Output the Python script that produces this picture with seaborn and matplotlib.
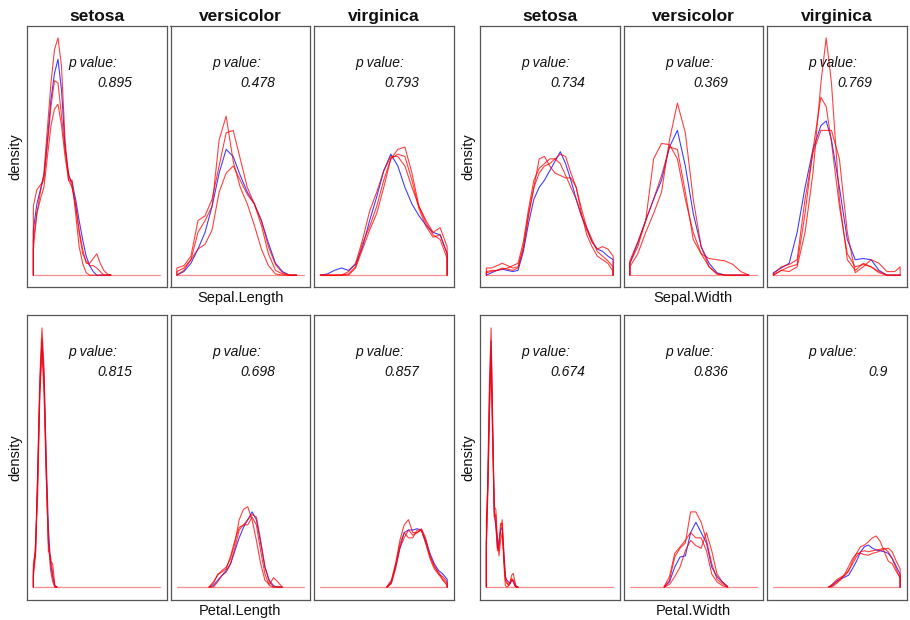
import numpy as np
import pandas as pd
import seaborn as sns
import matplotlib
matplotlib.use("Agg")
import matplotlib.pyplot as plt

species = ["setosa", "versicolor", "virginica"]
variables = ["Sepal.Length", "Sepal.Width", "Petal.Length", "Petal.Width"]
var_range = {"Sepal.Length": (4.3, 7.9), "Sepal.Width": (2.0, 4.4),
             "Petal.Length": (1.0, 6.9), "Petal.Width": (0.1, 2.5)}
curve_names = ["observed", "sim1", "sim2", "sim3"]

p_values = {
    "Sepal.Length": ["0.895", "0.478", "0.793"],
    "Sepal.Width": ["0.734", "0.369", "0.769"],
    "Petal.Length": ["0.815", "0.698", "0.857"],
    "Petal.Width": ["0.674", "0.836", "0.9"],
}

# density curves (observed + 3 simulated)
sl_setosa_x = [4.3, 4.4, 4.5, 4.6, 4.7, 4.8, 4.9, 5.0, 5.1, 5.2, 5.3, 5.4, 5.5, 5.6,
               5.7, 5.8, 5.9, 6.0, 6.1, 6.2, 6.3, 6.4, 6.5]
sl_setosa = [
    [0.19, 0.30, 0.36, 0.42, 0.57, 0.74, 0.85, 0.91, 0.78, 0.54, 0.42, 0.39, 0.32, 0.23, 0.15, 0.08, 0.04, 0.015, 0, 0, 0, 0, 0],
    [0.11, 0.26, 0.35, 0.43, 0.62, 0.81, 0.95, 1.0, 0.88, 0.57, 0.40, 0.40, 0.26, 0.12, 0.05, 0.01, 0, 0, 0, 0, 0, 0, 0],
    [0.29, 0.36, 0.38, 0.40, 0.55, 0.71, 0.82, 0.81, 0.67, 0.53, 0.43, 0.37, 0.29, 0.19, 0.11, 0.05, 0.05, 0.07, 0.09, 0.05, 0.02, 0.005, 0],
    [0.15, 0.26, 0.32, 0.37, 0.50, 0.63, 0.70, 0.72, 0.63, 0.50, 0.40, 0.37, 0.30, 0.18, 0.09, 0.06, 0.04, 0.04, 0.03, 0.015, 0, 0, 0],
]
sl_versicolor_x = [4.3, 4.5, 4.7, 4.9, 5.1, 5.3, 5.5, 5.7, 5.9, 6.1, 6.3, 6.5, 6.7, 6.9, 7.1, 7.3, 7.5, 7.7]
sl_versicolor = [
    [0, 0.015, 0.05, 0.11, 0.18, 0.29, 0.43, 0.53, 0.50, 0.42, 0.35, 0.30, 0.23, 0.135, 0.05, 0.015, 0, 0],
    [0.015, 0.03, 0.065, 0.18, 0.23, 0.29, 0.57, 0.67, 0.48, 0.37, 0.30, 0.21, 0.11, 0.04, 0.005, 0, 0, 0],
    [0.03, 0.04, 0.08, 0.23, 0.25, 0.32, 0.46, 0.60, 0.61, 0.49, 0.37, 0.30, 0.21, 0.09, 0.02, 0.005, 0, 0],
    [0, 0.02, 0.065, 0.11, 0.13, 0.19, 0.35, 0.43, 0.46, 0.40, 0.34, 0.30, 0.23, 0.12, 0.045, 0.01, 0, 0],
]
sl_virginica_x = [4.3, 4.5, 4.7, 4.9, 5.1, 5.3, 5.5, 5.7, 5.9, 6.1, 6.3, 6.5, 6.7, 6.9, 7.1, 7.3, 7.5, 7.7, 7.9]
sl_virginica = [
    [0, 0.005, 0.02, 0.03, 0.02, 0.045, 0.12, 0.23, 0.33, 0.44, 0.51, 0.46, 0.37, 0.30, 0.25, 0.21, 0.18, 0.17, 0.09],
    [0, 0, 0, 0, 0.005, 0.035, 0.135, 0.205, 0.29, 0.40, 0.49, 0.53, 0.54, 0.43, 0.29, 0.23, 0.18, 0.20, 0.12],
    [0, 0, 0, 0, 0.015, 0.05, 0.15, 0.27, 0.35, 0.44, 0.50, 0.50, 0.46, 0.37, 0.29, 0.22, 0.17, 0.15, 0.07],
    [0, 0, 0, 0, 0, 0.03, 0.11, 0.19, 0.26, 0.37, 0.49, 0.51, 0.50, 0.40, 0.28, 0.205, 0.16, 0.17, 0.09],
]

sw_setosa_x = [2.0, 2.1, 2.2, 2.3, 2.4, 2.5, 2.6, 2.7, 2.8, 2.9, 3.0, 3.1, 3.2, 3.3, 3.4, 3.5,
               3.6, 3.7, 3.8, 3.9, 4.0, 4.1, 4.2, 4.3, 4.4]
sw_setosa = [
    [0, 0.01, 0.02, 0.025, 0.02, 0.015, 0.02, 0.10, 0.22, 0.32, 0.37, 0.40, 0.44, 0.48, 0.52, 0.47, 0.40, 0.32, 0.25, 0.20, 0.14, 0.11, 0.10, 0.08, 0.065],
    [0.03, 0.03, 0.04, 0.05, 0.04, 0.03, 0.035, 0.12, 0.26, 0.37, 0.49, 0.50, 0.46, 0.43, 0.42, 0.41, 0.41, 0.37, 0.28, 0.20, 0.15, 0.10, 0.08, 0.06, 0.035],
    [0.015, 0.02, 0.02, 0.025, 0.03, 0.04, 0.05, 0.14, 0.28, 0.40, 0.45, 0.47, 0.49, 0.49, 0.47, 0.42, 0.37, 0.32, 0.25, 0.19, 0.14, 0.11, 0.12, 0.11, 0.08],
    [0.01, 0.015, 0.02, 0.03, 0.025, 0.02, 0.03, 0.11, 0.25, 0.37, 0.43, 0.46, 0.47, 0.49, 0.51, 0.50, 0.43, 0.37, 0.26, 0.17, 0.12, 0.08, 0.065, 0.05, 0.015],
]
sw_versicolor_x = [2.0, 2.15, 2.3, 2.45, 2.6, 2.75, 2.9, 3.05, 3.2, 3.35, 3.5, 3.65, 3.8, 3.95, 4.1, 4.25]
sw_versicolor = [
    [0.05, 0.135, 0.23, 0.32, 0.40, 0.54, 0.61, 0.46, 0.26, 0.12, 0.05, 0.01, 0, 0, 0, 0],
    [0.035, 0.09, 0.18, 0.26, 0.35, 0.57, 0.725, 0.60, 0.32, 0.12, 0.035, 0.005, 0, 0, 0, 0],
    [0.05, 0.12, 0.23, 0.49, 0.555, 0.55, 0.49, 0.32, 0.18, 0.09, 0.035, 0.005, 0, 0, 0, 0],
    [0.06, 0.14, 0.23, 0.32, 0.42, 0.54, 0.53, 0.35, 0.15, 0.09, 0.07, 0.065, 0.06, 0.045, 0.015, 0],
]
sw_virginica_x = [2.0, 2.15, 2.3, 2.45, 2.6, 2.75, 2.9, 3.0, 3.1, 3.25, 3.4, 3.55, 3.7, 3.85, 4.0, 4.15, 4.3, 4.4]
sw_virginica = [
    [0.01, 0.03, 0.05, 0.18, 0.37, 0.53, 0.63, 0.65, 0.57, 0.37, 0.15, 0.065, 0.07, 0.065, 0.02, 0, 0, 0],
    [0, 0.02, 0.015, 0.035, 0.18, 0.43, 0.81, 1.0, 0.81, 0.32, 0.065, 0.02, 0.05, 0.035, 0.015, 0, 0, 0],
    [0, 0.02, 0.035, 0.045, 0.26, 0.53, 0.75, 0.71, 0.56, 0.29, 0.09, 0.035, 0.045, 0.035, 0.01, 0, 0, 0],
    [0.005, 0.035, 0.045, 0.065, 0.32, 0.515, 0.61, 0.61, 0.61, 0.49, 0.18, 0.01, 0.035, 0.065, 0.05, 0.015, 0.015, 0.035],
]

pl_setosa_x = [1.0, 1.1, 1.2, 1.3, 1.4, 1.5, 1.6, 1.7, 1.8, 1.9, 2.0, 2.1]
pl_setosa = [
    [0.065, 0.13, 0.42, 0.75, 0.95, 0.81, 0.49, 0.23, 0.09, 0.04, 0.005, 0],
    [0.09, 0.14, 0.45, 0.81, 1.0, 0.84, 0.45, 0.17, 0.10, 0.09, 0.006, 0],
    [0.04, 0.12, 0.40, 0.77, 0.96, 0.77, 0.46, 0.14, 0.12, 0.05, 0, 0],
    [0.05, 0.17, 0.35, 0.74, 0.91, 0.74, 0.42, 0.18, 0.065, 0.02, 0, 0],
]
pl_versicolor_x = [2.5, 2.7, 2.9, 3.1, 3.3, 3.5, 3.7, 3.9, 4.1, 4.3, 4.5, 4.7, 4.9, 5.1, 5.3, 5.5, 5.7, 5.9]
pl_versicolor = [
    [0, 0.006, 0.026, 0.045, 0.064, 0.09, 0.14, 0.19, 0.23, 0.26, 0.29, 0.26, 0.17, 0.077, 0.026, 0.005, 0, 0],
    [0, 0.02, 0.045, 0.064, 0.077, 0.11, 0.17, 0.26, 0.30, 0.31, 0.26, 0.18, 0.09, 0.026, 0.01, 0.036, 0.02, 0],
    [0, 0.013, 0.05, 0.058, 0.07, 0.12, 0.18, 0.23, 0.24, 0.24, 0.27, 0.24, 0.14, 0.05, 0.006, 0, 0, 0],
    [0, 0, 0.02, 0.045, 0.058, 0.09, 0.15, 0.22, 0.24, 0.26, 0.28, 0.27, 0.18, 0.077, 0.02, 0, 0, 0],
]
pl_virginica_x = [4.1, 4.3, 4.5, 4.7, 4.9, 5.1, 5.3, 5.5, 5.7, 5.9, 6.1, 6.3, 6.5, 6.7, 6.9]
pl_virginica = [
    [0, 0.02, 0.077, 0.15, 0.21, 0.22, 0.22, 0.225, 0.22, 0.18, 0.13, 0.09, 0.064, 0.05, 0.03],
    [0.003, 0.026, 0.09, 0.18, 0.24, 0.26, 0.21, 0.21, 0.22, 0.17, 0.11, 0.07, 0.05, 0.04, 0.02],
    [0, 0.013, 0.07, 0.15, 0.19, 0.22, 0.20, 0.21, 0.225, 0.19, 0.12, 0.077, 0.058, 0.03, 0.013],
    [0, 0.015, 0.085, 0.165, 0.21, 0.19, 0.19, 0.22, 0.22, 0.17, 0.12, 0.085, 0.05, 0.026, 0.006],
]

pw_setosa_x = [0.1, 0.13, 0.16, 0.19, 0.22, 0.25, 0.28, 0.31, 0.34, 0.37, 0.4, 0.43, 0.46,
               0.49, 0.52, 0.55, 0.58, 0.61, 0.64, 0.67, 0.7]
pw_setosa = [
    [0.17, 0.42, 0.75, 0.95, 0.62, 0.30, 0.23, 0.15, 0.18, 0.22, 0.23, 0.13, 0.04, 0.026, 0.02, 0.013, 0.026, 0.02, 0.005, 0, 0],
    [0.14, 0.45, 0.81, 1.0, 0.64, 0.27, 0.28, 0.14, 0.17, 0.245, 0.245, 0.09, 0.006, 0, 0.005, 0.02, 0.046, 0.053, 0.02, 0, 0],
    [0.26, 0.40, 0.68, 0.91, 0.58, 0.31, 0.30, 0.17, 0.14, 0.22, 0.26, 0.14, 0.04, 0.02, 0.005, 0.013, 0.027, 0.027, 0.013, 0, 0],
    [0.17, 0.37, 0.70, 0.87, 0.55, 0.28, 0.24, 0.19, 0.12, 0.18, 0.21, 0.12, 0.026, 0.013, 0.01, 0.02, 0.033, 0.023, 0.005, 0, 0],
]
pw_versicolor_x = [0.75, 0.85, 0.95, 1.05, 1.15, 1.25, 1.35, 1.45, 1.55, 1.65, 1.75, 1.85, 1.95]
pw_versicolor = [
    [0, 0.02, 0.077, 0.116, 0.12, 0.21, 0.25, 0.21, 0.17, 0.077, 0.04, 0.02, 0.003],
    [0, 0.026, 0.116, 0.15, 0.17, 0.29, 0.29, 0.25, 0.18, 0.09, 0.03, 0.013, 0],
    [0.003, 0.04, 0.13, 0.155, 0.18, 0.21, 0.19, 0.19, 0.14, 0.05, 0.02, 0.005, 0],
    [0, 0.01, 0.04, 0.077, 0.14, 0.18, 0.16, 0.15, 0.21, 0.14, 0.05, 0.02, 0],
]
pw_virginica_x = [1.15, 1.225, 1.3, 1.375, 1.45, 1.525, 1.6, 1.675, 1.75, 1.825, 1.9, 1.975,
                  2.05, 2.125, 2.2, 2.275, 2.35, 2.425, 2.5]
pw_virginica = [
    [0, 0.01, 0.023, 0.032, 0.038, 0.046, 0.072, 0.10, 0.136, 0.156, 0.162, 0.15, 0.143, 0.14, 0.136, 0.13, 0.11, 0.08, 0.05],
    [0, 0.013, 0.028, 0.038, 0.045, 0.06, 0.10, 0.13, 0.156, 0.162, 0.175, 0.19, 0.197, 0.175, 0.136, 0.10, 0.09, 0.06, 0.038],
    [0, 0.006, 0.02, 0.032, 0.05, 0.08, 0.11, 0.13, 0.13, 0.125, 0.123, 0.13, 0.134, 0.14, 0.146, 0.15, 0.136, 0.10, 0.07],
    [0, 0.003, 0.015, 0.028, 0.045, 0.066, 0.09, 0.118, 0.136, 0.14, 0.136, 0.14, 0.143, 0.146, 0.15, 0.136, 0.11, 0.07, 0.032],
]

curves = {
    "Sepal.Length": [(sl_setosa_x, sl_setosa), (sl_versicolor_x, sl_versicolor), (sl_virginica_x, sl_virginica)],
    "Sepal.Width": [(sw_setosa_x, sw_setosa), (sw_versicolor_x, sw_versicolor), (sw_virginica_x, sw_virginica)],
    "Petal.Length": [(pl_setosa_x, pl_setosa), (pl_versicolor_x, pl_versicolor), (pl_virginica_x, pl_virginica)],
    "Petal.Width": [(pw_setosa_x, pw_setosa), (pw_versicolor_x, pw_versicolor), (pw_virginica_x, pw_virginica)],
}

sns.set_style("white")
plt.rcParams["font.family"] = ["Liberation Sans", "DejaVu Sans"]

W, H = 910, 620
fig = plt.figure(figsize=(W / 100, H / 100), dpi=100)

palette = {"observed": "#0000FF", "sim1": "#FF0000", "sim2": "#FF0000", "sim3": "#FF0000"}
group_left = {"Sepal.Length": 27, "Sepal.Width": 480, "Petal.Length": 27, "Petal.Width": 480}
group_row = {"Sepal.Length": (26, 287), "Sepal.Width": (26, 287),
             "Petal.Length": (315, 600), "Petal.Width": (315, 600)}
panel_step, panel_w = 143.5, 139.5

for var in variables:
    lo, hi = var_range[var]
    top, bottom = group_row[var]
    ymax = max(max(max(c) for c in ys) for _, ys in curves[var])
    for j, sp in enumerate(species):
        left = group_left[var] + j * panel_step
        ax = fig.add_axes([left / W, 1 - bottom / H, panel_w / W, (bottom - top) / H])
        xs, ys = curves[var][j]
        rows = []
        for name, y in zip(curve_names, ys):
            pts = [(xs[0], 0.0)] + list(zip(xs, y)) + [(xs[-1], 0.0)]
            for k, (xv, yv) in enumerate(pts):
                rows.append({"curve": name, "order": k, "x": xv, "density": yv})
        d = pd.DataFrame(rows)
        # observed curve first, simulated ones and the zero line on top
        sns.lineplot(data=d, x="x", y="density", hue="curve", hue_order=curve_names,
                     palette=palette, estimator=None, sort=False, legend=False,
                     linewidth=0.8, alpha=0.75, ax=ax)
        sns.lineplot(x=[lo, hi], y=[0, 0], color="#FF0000", alpha=0.45, linewidth=0.9, ax=ax)
        pad_x = 0.05 * (hi - lo)
        ax.set_xlim(lo - pad_x, hi + pad_x)
        ax.set_ylim(-0.05 * ymax, 1.05 * ymax)
        ax.set_xticks([])
        ax.set_yticks([])
        ax.set_xlabel("")
        ax.set_ylabel("")
        for s in ax.spines.values():
            s.set_visible(True)
            s.set_color("#555555")
            s.set_linewidth(0.9)
        if top < 100:
            ax.set_title(sp, fontsize=12.5, fontweight="bold", pad=3.5, color="#111111")
        pv = p_values[var][j]
        ax.annotate("p value:", xy=(0.475, 1), xycoords="axes fraction",
                    xytext=(0, -37), textcoords="offset pixels",
                    ha="center", va="center", style="italic", fontsize=10, color="#111111")
        ax.annotate(pv, xy=(0.627 + (5 - len(pv)) * 0.083, 1), xycoords="axes fraction",
                    xytext=(0, -57), textcoords="offset pixels",
                    ha="center", va="center", style="italic", fontsize=10, color="#111111")
    mid = group_left[var] + panel_step + panel_w / 2
    fig.text(mid / W, 1 - (bottom + 11) / H, var, ha="center", va="center",
             fontsize=10.5, color="#111111")
    fig.text((group_left[var] - 12) / W, 1 - (top + bottom) / 2 / H, "density",
             rotation=90, ha="center", va="center", fontsize=10.5, color="#111111")

fig.savefig("out.png", dpi=100)
